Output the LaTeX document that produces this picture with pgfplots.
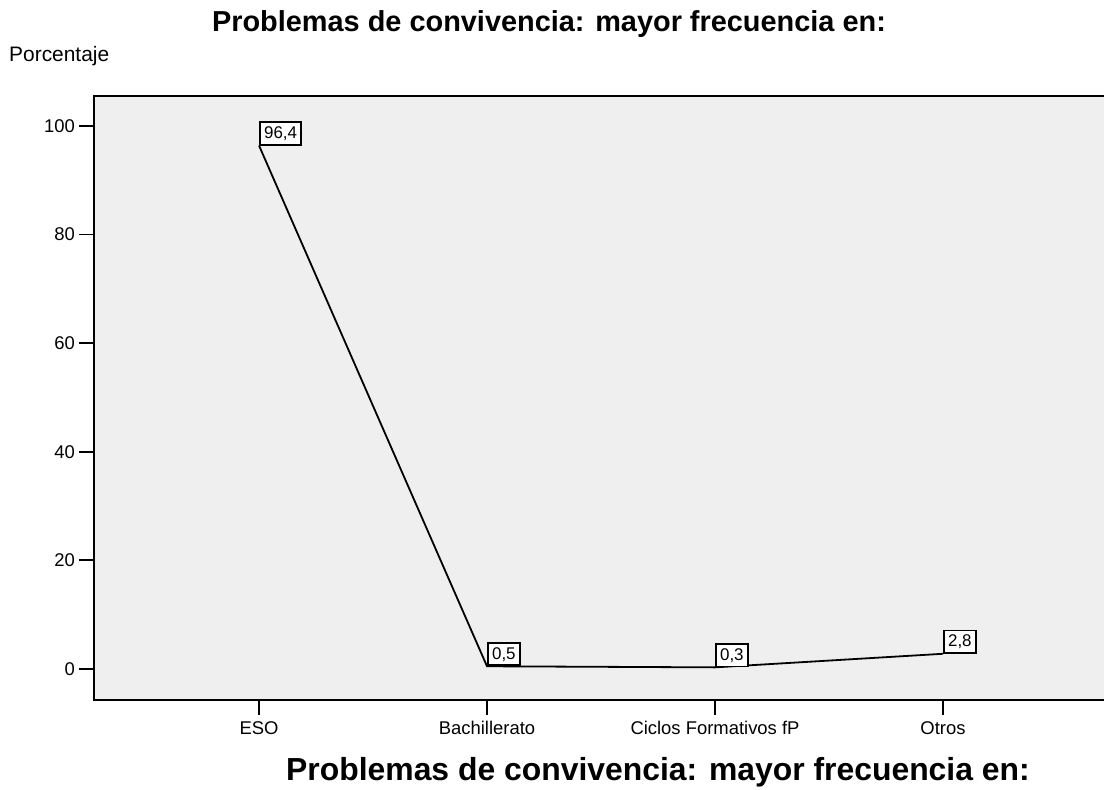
\documentclass[border=0pt]{standalone}
\usepackage{pgfplots}
\pgfplotsset{compat=1.18}
\usepackage{fontspec}
\setmainfont{Liberation Sans}
\definecolor{plotbg}{RGB}{239,239,239}
\begin{document}
\begin{tikzpicture}[x=1bp,y=1bp]
\path[use as bounding box] (0,0) rectangle (1104,790);
\begin{axis}[
  at={(94bp,90bp)}, anchor=south west,
  scale only axis,
  width=1014bp, height=604bp,
  xmin=-0.7237, xmax=3.7237,
  ymin=-5.71, ymax=105.52,
  axis background/.style={fill=plotbg},
  axis line style={line width=1.8bp, black},
  xtick={0,1,2,3},
  xticklabels={ESO,Bachillerato,Ciclos Formativos fP,Otros},
  ytick={0,20,40,60,80,100},
  xtick pos=bottom, ytick pos=left,
  tick align=outside,
  major tick length=15bp,
  tick style={line width=1.8bp, black},
  /pgf/number format/assume math mode=true,
  ticklabel style={font=\fontsize{18.5}{20}\selectfont, black},
  yticklabel style={inner sep=0bp, xshift=-4bp},
  xticklabel style={inner sep=0bp, text height=13.5bp, text depth=4bp, yshift=-6bp},
  clip=false,
]
\addplot[black, line width=1.8bp, mark=none,
  point meta=explicit symbolic,
  nodes near coords,
  nodes near coords align={anchor=south west},
  every node near coord/.append style={anchor=south west, draw=black, line width=1.8bp, fill=white,
     inner sep=4.2bp, font=\fontsize{17}{18}\selectfont, text=black, yshift=0bp, xshift=0bp}
] table[x=x, y=y, meta=lab] {
x y lab
0 96.4 96,4
1 0.5 0,5
2 0.3 0,3
3 2.8 2,8
};
\end{axis}
\node[anchor=base, inner sep=0] at (549,758) {\fontsize{29}{32}\selectfont\bfseries Problemas de convivencia: mayor frecuencia en:};
\node[anchor=base, inner sep=0] at (658,9) {\fontsize{32}{36}\selectfont\bfseries Problemas de convivencia: mayor frecuencia en:};
\node[anchor=base west, inner sep=0] at (9,728) {\fontsize{21}{23}\selectfont Porcentaje};
\end{tikzpicture}
\end{document}
